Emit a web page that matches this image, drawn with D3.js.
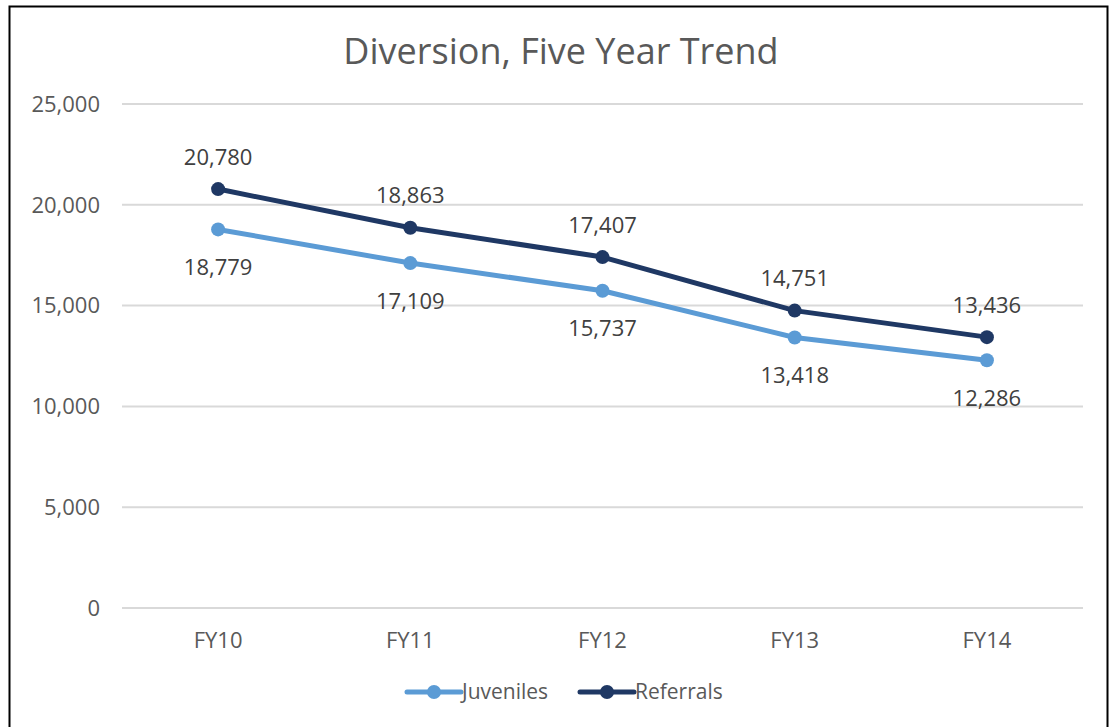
<!DOCTYPE html>
<meta charset="utf-8">
<style>
body { margin: 0; background: #fff; }
text { font-family: "Open Sans", "Noto Sans", sans-serif; fill: #595959; }
.grid line { stroke: #d9d9d9; stroke-width: 2px; }
</style>
<body>
<script src="https://cdn.jsdelivr.net/npm/d3@7"></script>
<script>
// chart values
var years = ["FY10", "FY11", "FY12", "FY13", "FY14"];
var juveniles = [18779, 17109, 15737, 13418, 12286];
var referrals = [20780, 18863, 17407, 14751, 13436];
var yTicks = [0, 5000, 10000, 15000, 20000, 25000];
var seriesNames = ["Juveniles", "Referrals"];
var colors = ["#5b9bd5", "#1f3864"];

var width = 1111, height = 727;
var margin = {top: 104, right: 28, bottom: 119, left: 122};

var svg = d3.select("body").append("svg")
    .attr("width", width)
    .attr("height", height);

// outer frame
svg.append("rect")
    .attr("x", 9.5).attr("y", 6.5)
    .attr("width", 1098).attr("height", 730)
    .attr("fill", "none").attr("stroke", "#000").attr("stroke-width", 2);

svg.append("text")
    .attr("x", 561).attr("y", 64)
    .attr("text-anchor", "middle")
    .style("font-size", "36px")
    .text("Diversion, Five Year Trend");

var x = d3.scalePoint()
    .domain(years)
    .range([margin.left, width - margin.right])
    .padding(0.5);

var y = d3.scaleLinear()
    .domain([0, 25000])
    .range([height - margin.bottom, margin.top]);

var fmt = d3.format(",");

// gridlines
var grid = svg.append("g").attr("class", "grid");
grid.selectAll("line").data(yTicks).enter().append("line")
    .attr("x1", margin.left).attr("x2", width - margin.right)
    .attr("y1", function(d) { return y(d); })
    .attr("y2", function(d) { return y(d); });

// y labels
svg.append("g").selectAll("text").data(yTicks).enter().append("text")
    .attr("x", 100)
    .attr("y", function(d) { return y(d); })
    .attr("dy", "0.35em")
    .attr("text-anchor", "end")
    .style("font-size", "22px")
    .text(function(d) { return fmt(d); });

// x labels
svg.append("g").selectAll("text").data(years).enter().append("text")
    .attr("x", function(d) { return x(d); })
    .attr("y", 640)
    .attr("dy", "0.35em")
    .attr("text-anchor", "middle")
    .style("font-size", "22px")
    .text(function(d) { return d; });

var line = d3.line()
    .x(function(d, i) { return x(years[i]); })
    .y(function(d) { return y(d); });

[juveniles, referrals].forEach(function(vals, s) {
    var g = svg.append("g");
    g.append("path")
        .datum(vals)
        .attr("d", line)
        .attr("fill", "none")
        .attr("stroke", colors[s])
        .attr("stroke-width", 5)
        .attr("stroke-linejoin", "round");
    g.selectAll("circle").data(vals).enter().append("circle")
        .attr("cx", function(d, i) { return x(years[i]); })
        .attr("cy", function(d) { return y(d); })
        .attr("r", 7)
        .attr("fill", colors[s]);
    g.selectAll("text").data(vals).enter().append("text")
        .attr("x", function(d, i) { return x(years[i]); })
        .attr("y", function(d) { return y(d) + (s === 0 ? 38 : -32); })
        .attr("dy", "0.35em")
        .attr("text-anchor", "middle")
        .style("font-size", "22px")
        .style("fill", "#404040")
        .text(function(d) { return fmt(d); });
});

// legend
var legendX = [407, 580];
seriesNames.forEach(function(name, s) {
    var lg = svg.append("g").attr("transform", "translate(" + legendX[s] + ",692)");
    lg.append("line")
        .attr("x1", 0).attr("x2", 54)
        .attr("stroke", colors[s]).attr("stroke-width", 5)
        .attr("stroke-linecap", "round");
    lg.append("circle").attr("cx", 27).attr("r", 7).attr("fill", colors[s]);
    lg.append("text")
        .attr("x", 55).attr("dy", "0.35em")
        .style("font-size", "21px")
        .text(name);
});
</script>
</body>
